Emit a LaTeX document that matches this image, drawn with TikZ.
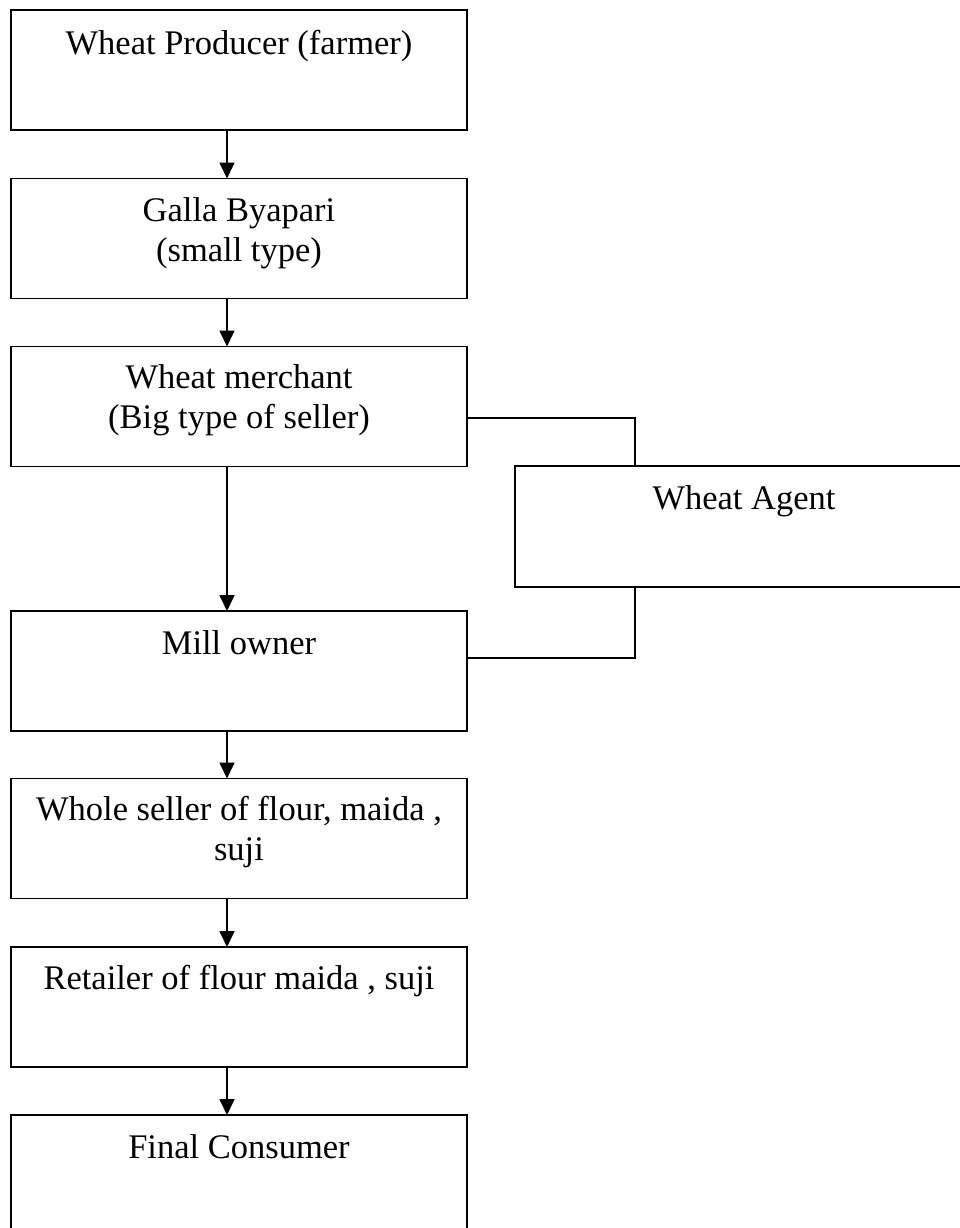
\documentclass[tikz,border=0pt]{standalone}
\usepackage{fontspec}
\setmainfont{Liberation Serif}
\usetikzlibrary{arrows.meta}
\begin{document}
\begin{tikzpicture}[x=1pt,y=-1pt,
  box/.style={draw=black,line width=1.7pt,rectangle,minimum width=456pt,minimum height=120pt,inner sep=0pt,outer sep=0pt},
  lbl/.style={anchor=base,inner sep=0pt,font=\fontsize{34.5}{40}\selectfont,align=center},
  flow/.style={line width=1.7pt,-{Triangle[width=15pt,length=16pt]}},
  link/.style={line width=1.7pt}]
\clip (0,0) rectangle (960,1228);
\fill[white] (0,0) rectangle (960,1228);

% chain of boxes
\node[box] (producer) at (239,70) {};
\node[box] (galla) at (239,238.5) {};
\node[box] (merchant) at (239,406.5) {};
\node[box,minimum width=458pt,minimum height=121pt] (agent) at (744,526.5) {};
\node[box] (mill) at (239,671) {};
\node[box] (whole) at (239,838.5) {};
\node[box] (retail) at (239,1007) {};
\node[box] (consumer) at (239,1175) {};

% box texts (two-line texts are placed by the baseline of their last line)
\node[lbl] (tproducer) at (239,55) {Wheat Producer (farmer)};
\node[lbl] (tgalla) at (239,261) {Galla Byapari\\(small type)};
\node[lbl] (tmerchant) at (239,428) {Wheat merchant\\(Big type of seller)};
\node[lbl] (tagent) at (744,509) {Wheat Agent};
\node[lbl] (tmill) at (239,654) {Mill owner};
\node[lbl] (twhole) at (239,860) {Whole seller of flour, maida ,\\suji};
\node[lbl] (tretail) at (239,989) {Retailer of flour maida , suji};
\node[lbl] (tconsumer) at (239,1158) {Final Consumer};

% downward arrows
\draw[flow] ([xshift=-12pt]producer.south) -- ([xshift=-12pt]galla.north);
\draw[flow] ([xshift=-12pt]galla.south) -- ([xshift=-12pt]merchant.north);
\draw[flow] ([xshift=-12pt]merchant.south) -- ([xshift=-12pt]mill.north);
\draw[flow] ([xshift=-12pt]mill.south) -- ([xshift=-12pt]whole.north);
\draw[flow] ([xshift=-12pt]whole.south) -- ([xshift=-12pt]retail.north);
\draw[flow] ([xshift=-12pt]retail.south) -- ([xshift=-12pt]consumer.north);

% side route through the agent
\draw[link] ([yshift=-11.5pt]merchant.east) -| ([xshift=-109pt]agent.north);
\draw[link] ([xshift=-109pt]agent.south) |- ([yshift=13pt]mill.east);
\end{tikzpicture}
\end{document}
